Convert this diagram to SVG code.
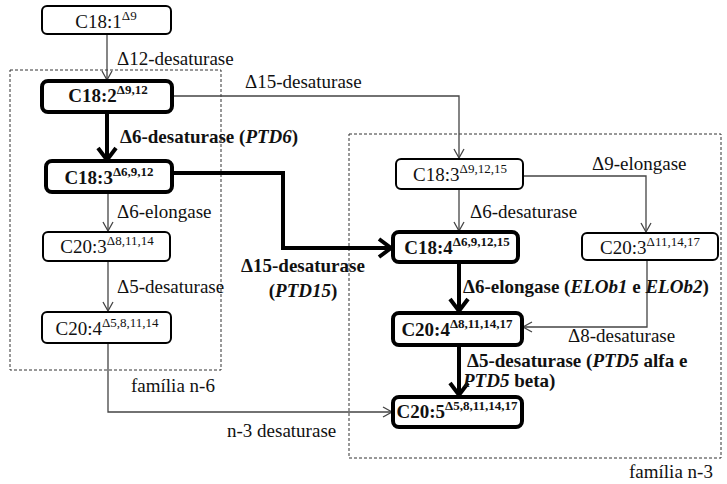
<svg xmlns="http://www.w3.org/2000/svg" width="727" height="484" viewBox="0 0 727 484" font-family="'Liberation Serif', Tinos, 'Noto Serif', 'DejaVu Serif', FreeSerif, serif">
<defs>
<marker id="ah" markerUnits="userSpaceOnUse" markerWidth="14" markerHeight="14" viewBox="-12 -7 14 14" refX="0" refY="0" orient="auto"><path d="M-9,-5 L0,0 L-9,5" fill="none" stroke="#444" stroke-width="1.3"/></marker>
<marker id="ahb" markerUnits="userSpaceOnUse" markerWidth="22" markerHeight="24" viewBox="-16 -12 20 24" refX="0" refY="0" orient="auto"><path d="M-12,-9 L0,0 L-12,9" fill="none" stroke="#000" stroke-width="4"/></marker>
</defs>
<style>
text{font-family:'Liberation Serif',Tinos,'Noto Serif','DejaVu Serif',FreeSerif,serif;font-size:19px;fill:#111}
.b{font-weight:bold}
.bi{font-weight:bold;font-style:italic}
.sup{font-size:13px}
.n{fill:#fff;stroke:#000;stroke-width:2}
.nb{fill:#fff;stroke:#000;stroke-width:4}
.fam{fill:none;stroke:#333;stroke-width:1;stroke-dasharray:3,2}
.c{fill:none;stroke:#444;stroke-width:1.3;marker-end:url(#ah)}
.cb{fill:none;stroke:#000;stroke-width:4;marker-end:url(#ahb)}
.ct{text-anchor:middle}
</style>
<g id="families">
<rect class="fam" x="10" y="70" width="211" height="300"/>
<rect class="fam" x="349" y="134" width="372" height="324"/>
<text x="131" y="392">família n-6</text>
<text x="629" y="478">família n-3</text>
</g>
<g id="connectors">
<path class="c" d="M107,34 V80"/>
<path class="c" d="M172,96 H459 V158"/>
<path class="cb" d="M107,112 V160"/>
<path class="cb" d="M172,173 H283 V248 H391"/>
<path class="c" d="M108,192 V231"/>
<path class="c" d="M108,261 V311"/>
<path class="c" d="M108,343 V412 H392"/>
<path class="c" d="M459,189 V231"/>
<path class="c" d="M523,176 H646 V232"/>
<path class="cb" d="M459,262 V311"/>
<path class="c" d="M647,260 V327 H523"/>
<path class="cb" d="M459,345 V395"/>
<text x="117" y="65">Δ12-desaturase</text>
<text x="245" y="88">Δ15-desaturase</text>
<text class="b" x="120" y="143">Δ6-desaturase (<tspan class="bi">PTD6</tspan>)</text>
<text x="117" y="218">Δ6-elongase</text>
<text x="117" y="293">Δ5-desaturase</text>
<text x="227" y="437">n-3 desaturase</text>
<text class="b ct" x="303" y="272">Δ15-desaturase</text>
<text class="b ct" x="303" y="297">(<tspan class="bi">PTD15</tspan>)</text>
<text x="592" y="170">Δ9-elongase</text>
<text x="470" y="218">Δ6-desaturase</text>
<text class="b" x="463" y="293">Δ6-elongase (<tspan class="bi">ELOb1</tspan> e <tspan class="bi">ELOb2</tspan>)</text>
<text x="568" y="342">Δ8-desaturase</text>
<text class="b" x="467" y="367">Δ5-desaturase (<tspan class="bi">PTD5</tspan> alfa e</text>
<text class="b" x="463" y="387"><tspan class="bi">PTD5</tspan> beta)</text>
</g>
<g id="c18_1"><rect class="n" x="42" y="6" width="129" height="28" rx="5"/><text class="ct" x="106" y="28">C18:1<tspan class="sup" dy="-8">Δ9</tspan></text></g>
<g id="c18_2"><rect class="nb" x="42" y="81" width="130" height="31" rx="6"/><text class="ct b" x="108" y="102">C18:2<tspan class="sup" dy="-8">Δ9,12</tspan></text></g>
<g id="c18_3_n6"><rect class="nb" x="46" y="161" width="126" height="31" rx="6"/><text class="ct b" x="109" y="184">C18:3<tspan class="sup" dy="-8">Δ6,9,12</tspan></text></g>
<g id="c20_3_n6"><rect class="n" x="43" y="232" width="127" height="29" rx="5"/><text class="ct" x="107" y="253">C20:3<tspan class="sup" dy="-8">Δ8,11,14</tspan></text></g>
<g id="c20_4_n6"><rect class="n" x="42" y="312" width="129" height="31" rx="5"/><text class="ct" x="107" y="335">C20:4<tspan class="sup" dy="-8">Δ5,8,11,14</tspan></text></g>
<g id="c18_3_n3"><rect class="n" x="396" y="159" width="127" height="30" rx="5"/><text class="ct" x="460" y="181">C18:3<tspan class="sup" dy="-8">Δ9,12,15</tspan></text></g>
<g id="c18_4"><rect class="nb" x="393" y="232" width="125" height="30" rx="6"/><text class="ct b" x="457" y="254">C18:4<tspan class="sup" dy="-8">Δ6,9,12,15</tspan></text></g>
<g id="c20_3_n3"><rect class="n" x="582" y="233" width="136" height="27" rx="5"/><text class="ct" x="650" y="254">C20:3<tspan class="sup" dy="-8">Δ11,14,17</tspan></text></g>
<g id="c20_4_n3"><rect class="nb" x="393" y="313" width="129" height="32" rx="6"/><text class="ct b" x="457" y="336">C20:4<tspan class="sup" dy="-8">Δ8,11,14,17</tspan></text></g>
<g id="c20_5"><rect class="nb" x="393" y="397" width="129" height="30" rx="6"/><text class="ct b" x="457" y="418">C20:5<tspan class="sup" dy="-8">Δ5,8,11,14,17</tspan></text></g>
</svg>
